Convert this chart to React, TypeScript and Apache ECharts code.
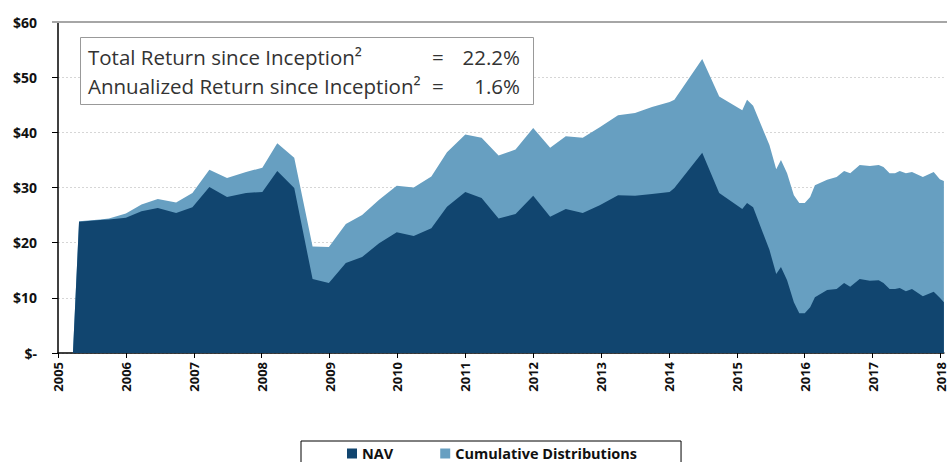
import React, { useEffect, useRef } from "react";
import * as echarts from "echarts";

const dates = [
  2005.0, 2005.22, 2005.31, 2005.62, 2005.75, 2006.0, 2006.23, 2006.47, 2006.74, 2006.98,
  2007.23, 2007.49, 2007.77, 2008.01, 2008.23, 2008.48, 2008.75, 2008.99, 2009.24, 2009.48,
  2009.73, 2009.99, 2010.24, 2010.5, 2010.73, 2011.0, 2011.24, 2011.49, 2011.74, 2012.0,
  2012.25, 2012.48, 2012.73, 2012.98, 2013.25, 2013.5, 2013.75, 2014.01, 2014.08, 2014.49,
  2014.74, 2015.08, 2015.15, 2015.24, 2015.48, 2015.58, 2015.65, 2015.74, 2015.84, 2015.92,
  2016.0, 2016.08, 2016.15, 2016.33, 2016.47, 2016.58, 2016.67, 2016.81, 2016.96, 2017.09,
  2017.16, 2017.25, 2017.33, 2017.4, 2017.49, 2017.58, 2017.74, 2017.9, 2017.99, 2018.05,
];

const navValues = [
  0, 0, 23.8, 24.1, 24.2, 24.5, 25.7, 26.3, 25.4, 26.4,
  30.1, 28.3, 29.0, 29.2, 33.0, 29.9, 13.4, 12.7, 16.3, 17.4,
  19.9, 21.9, 21.2, 22.6, 26.5, 29.2, 28.1, 24.4, 25.2, 28.5,
  24.7, 26.1, 25.4, 26.8, 28.6, 28.5, 28.8, 29.2, 29.9, 36.3,
  29.0, 26.1, 27.2, 26.4, 18.7, 14.3, 15.6, 13.2, 9.2, 7.2,
  7.2, 8.3, 10.1, 11.4, 11.6, 12.7, 12.0, 13.4, 13.1, 13.2,
  12.7, 11.6, 11.6, 11.8, 11.2, 11.6, 10.3, 11.1, 10.0, 9.2,
];

// NAV plus cumulative distributions (top of the light area)
const totalValues = [
  0, 0, 23.9, 24.2, 24.4, 25.3, 26.9, 27.9, 27.3, 29.0,
  33.2, 31.7, 32.8, 33.6, 38.0, 35.4, 19.3, 19.2, 23.4, 25.0,
  27.8, 30.3, 30.0, 32.0, 36.4, 39.6, 39.0, 35.8, 36.9, 40.8,
  37.2, 39.3, 39.0, 40.9, 43.1, 43.5, 44.6, 45.5, 45.9, 53.3,
  46.5, 44.0, 45.9, 44.8, 37.7, 33.3, 35.0, 32.6, 28.6, 27.2,
  27.2, 28.3, 30.4, 31.4, 31.9, 33.0, 32.6, 34.1, 33.9, 34.1,
  33.7, 32.6, 32.6, 33.0, 32.6, 32.8, 31.9, 32.8, 31.5, 31.2,
];

const yearTicks = [2005, 2006, 2007, 2008, 2009, 2010, 2011, 2012, 2013, 2014, 2015, 2016, 2017, 2018];
const seriesNames = ["NAV", "Cumulative Distributions"];
const statLabels = ["Total Return since Inception\u00B2", "Annualized Return since Inception\u00B2"];
const statValues = ["22.2%", "1.6%"];

const NAV_COLOR = "#11456F";
const DIST_COLOR = "#679FC1";
const FONT = "'Open Sans', 'Noto Sans', sans-serif";
const BOX_FONT = `20.5px ${FONT}`;

export default function App() {
  const ref = useRef<HTMLDivElement>(null);
  useEffect(() => {
    if (!ref.current) return;
    const chart = echarts.init(ref.current, null, { renderer: "svg" });
    const navData = dates.map((d, i) => [d, navValues[i]]);
    const totalData = dates.map((d, i) => [d, totalValues[i]]);
    chart.setOption({
      animation: false,
      grid: { left: 58, right: 0, top: 22, bottom: 109 },
      legend: {
        data: seriesNames,
        left: 301,
        top: 441,
        padding: [5, 44, 14, 46],
        itemGap: 47,
        itemWidth: 10,
        itemHeight: 10,
        icon: "rect",
        borderColor: "#000",
        borderWidth: 1,
        textStyle: { fontFamily: FONT, fontWeight: "bold", fontSize: 14.5, color: "#111" },
      },
      xAxis: {
        type: "value",
        min: 2005,
        max: 2018.05,
        interval: 1,
        axisLine: { show: true, lineStyle: { color: "#000", width: 1.5 } },
        axisTick: { show: true, length: 5, lineStyle: { color: "#000" }, customValues: yearTicks },
        axisLabel: {
          customValues: yearTicks,
          rotate: 90,
          margin: 9,
          fontFamily: FONT,
          fontWeight: "bold",
          fontSize: 13,
          color: "#111",
          formatter: (v: number) => String(v),
        },
        splitLine: { show: false },
      },
      yAxis: {
        type: "value",
        min: 0,
        max: 60,
        interval: 10,
        axisLine: { show: true, lineStyle: { color: "#000", width: 1.5 } },
        axisTick: { show: true, length: 6, lineStyle: { color: "#000" } },
        axisLabel: {
          margin: 21,
          fontFamily: FONT,
          fontWeight: "bold",
          fontSize: 14,
          color: "#111",
          formatter: (v: number) => (v === 0 ? "$-" : "$" + v),
        },
        splitLine: { show: true, lineStyle: { color: "#D6D6D6", type: [2, 2], width: 1 } },
      },
      series: [
        {
          name: seriesNames[1],
          type: "line",
          data: totalData,
          showSymbol: false,
          lineStyle: { width: 0 },
          areaStyle: { color: DIST_COLOR, opacity: 1 },
          itemStyle: { color: DIST_COLOR },
          z: 2,
        },
        {
          name: seriesNames[0],
          type: "line",
          data: navData,
          showSymbol: false,
          lineStyle: { width: 0 },
          areaStyle: { color: NAV_COLOR, opacity: 1 },
          itemStyle: { color: NAV_COLOR },
          z: 3,
        },
      ],
      graphic: [
        {
          type: "line",
          shape: { x1: 52, y1: 22, x2: 947, y2: 22 },
          style: { stroke: "#A6A6A6", lineWidth: 2 },
          z: 10,
        },
        {
          type: "rect",
          shape: { x: 80.5, y: 37.5, width: 453, height: 67 },
          style: { fill: "#fff", stroke: "#999", lineWidth: 1 },
          z: 20,
        },
        {
          type: "text",
          x: 88,
          y: 57,
          style: { text: statLabels[0], font: BOX_FONT, fill: "#333", verticalAlign: "middle" },
          z: 21,
        },
        {
          type: "text",
          x: 88,
          y: 86,
          style: { text: statLabels[1], font: BOX_FONT, fill: "#333", verticalAlign: "middle" },
          z: 21,
        },
        {
          type: "text",
          x: 432,
          y: 57,
          style: { text: "=", font: BOX_FONT, fill: "#333", verticalAlign: "middle" },
          z: 21,
        },
        {
          type: "text",
          x: 432,
          y: 86,
          style: { text: "=", font: BOX_FONT, fill: "#333", verticalAlign: "middle" },
          z: 21,
        },
        {
          type: "text",
          x: 520,
          y: 57,
          style: { text: statValues[0], font: BOX_FONT, fill: "#333", align: "right", verticalAlign: "middle" },
          z: 21,
        },
        {
          type: "text",
          x: 520,
          y: 86,
          style: { text: statValues[1], font: BOX_FONT, fill: "#333", align: "right", verticalAlign: "middle" },
          z: 21,
        },
      ],
    });
    return () => chart.dispose();
  }, []);
  return <div ref={ref} style={{ width: 947, height: 462, position: "absolute", left: 0, top: 0 }} />;
}
